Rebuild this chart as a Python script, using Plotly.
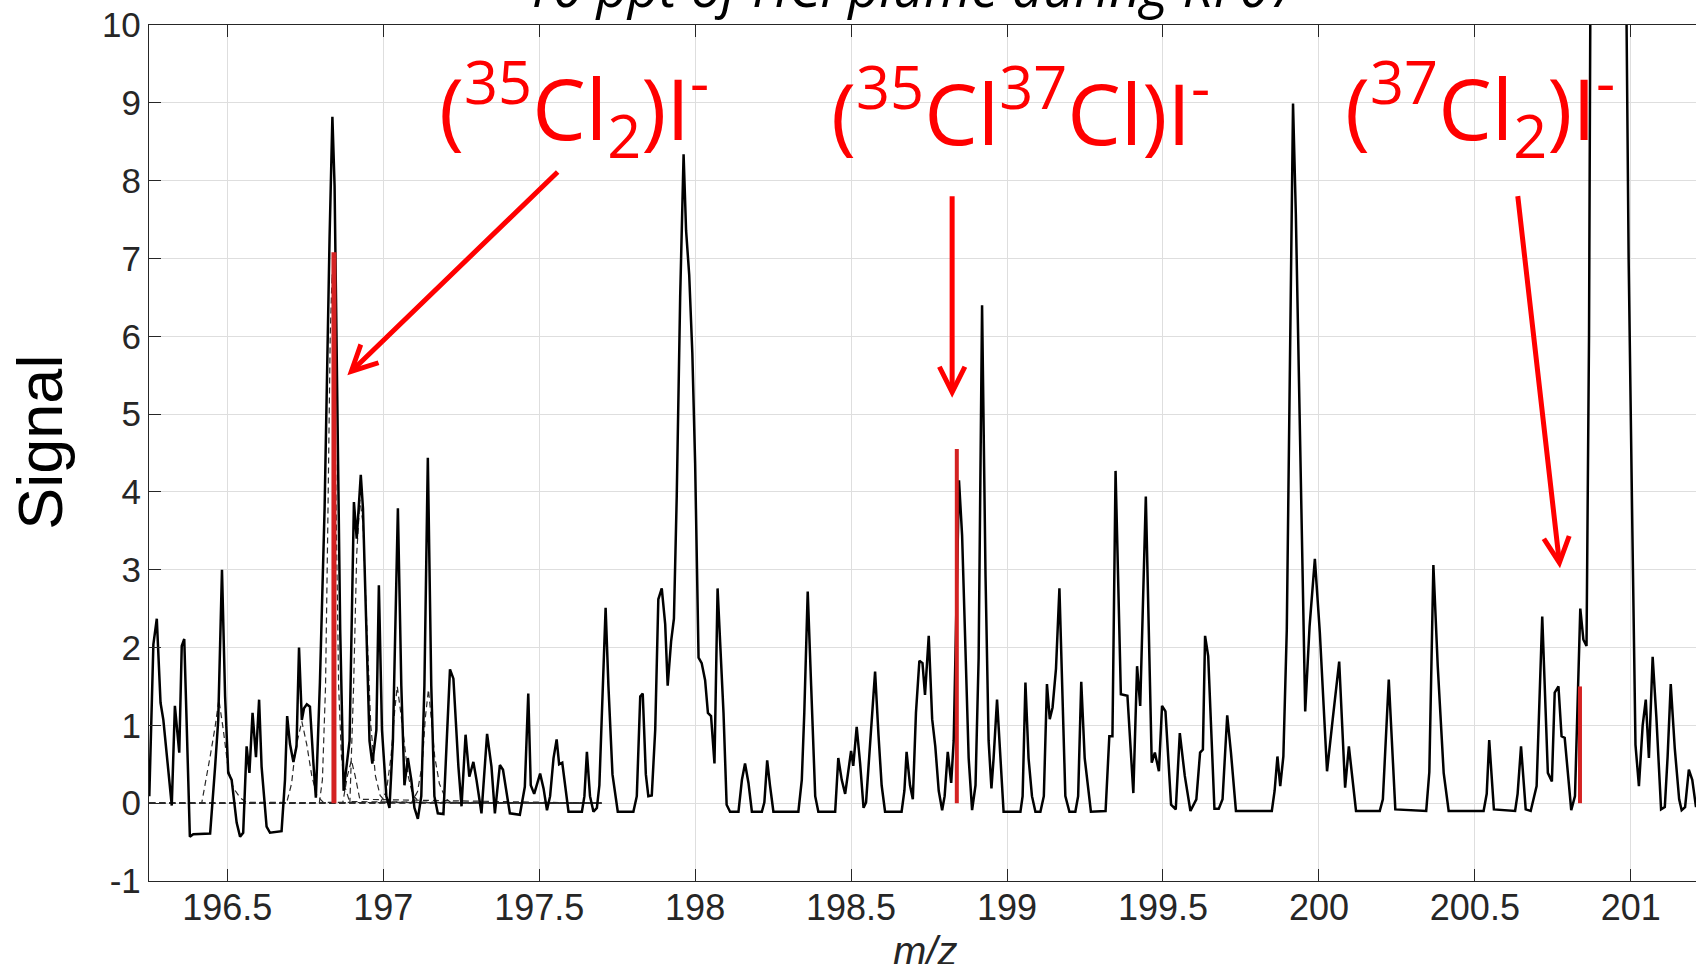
import plotly.graph_objects as go

# ---------------- data ----------------
mz = [
    196.250, 196.263, 196.274, 196.286, 196.295, 196.306, 196.322, 196.332, 196.338, 196.346,
    196.354, 196.362, 196.370, 196.380, 196.391, 196.445, 196.461, 196.471, 196.483, 196.493,
    196.503, 196.514, 196.530, 196.541, 196.551, 196.562, 196.571, 196.581, 196.592, 196.602,
    196.610, 196.626, 196.637, 196.674, 196.685, 196.692, 196.701, 196.712, 196.722, 196.730,
    196.739, 196.746, 196.755, 196.765, 196.776, 196.784, 196.797, 196.812, 196.828, 196.837,
    196.844, 196.853, 196.862, 196.873, 196.877, 196.892, 196.906, 196.915, 196.928, 196.935,
    196.946, 196.956, 196.965, 196.978, 196.986, 196.996, 197.010, 197.020, 197.031, 197.047,
    197.058, 197.068, 197.079, 197.090, 197.100, 197.111, 197.122, 197.132, 197.143, 197.154,
    197.164, 197.175, 197.193, 197.214, 197.225, 197.241, 197.251, 197.264, 197.276, 197.289,
    197.299, 197.315, 197.333, 197.347, 197.358, 197.374, 197.384, 197.406, 197.438, 197.454,
    197.465, 197.473, 197.484,
    197.503, 197.514, 197.525, 197.535, 197.546, 197.556, 197.564, 197.574, 197.583, 197.594,
    197.637, 197.645, 197.653, 197.663, 197.674, 197.685, 197.693, 197.701, 197.713, 197.722,
    197.735, 197.752, 197.802, 197.813, 197.824, 197.832, 197.842, 197.850, 197.861, 197.872,
    197.882, 197.893, 197.904, 197.912, 197.923, 197.932, 197.941, 197.952, 197.963, 197.971,
    197.981, 197.991, 198.000, 198.011, 198.021, 198.032, 198.041, 198.051, 198.062, 198.072,
    198.080, 198.091, 198.101, 198.112, 198.139, 198.150, 198.160, 198.171, 198.182, 198.214,
    198.222, 198.231, 198.240, 198.251, 198.331, 198.342, 198.350, 198.361, 198.372, 198.385,
    198.395, 198.449, 198.459, 198.470, 198.481, 198.491, 198.500, 198.507, 198.518, 198.529,
    198.540, 198.548, 198.556, 198.577, 198.588, 198.598, 198.609, 198.662, 198.671, 198.678,
    198.689, 198.698, 198.708, 198.719, 198.729, 198.737, 198.749,
    198.760, 198.770, 198.781, 198.792, 198.800, 198.810, 198.821, 198.829, 198.846, 198.856,
    198.869, 198.877, 198.888, 198.899, 198.909, 198.920, 198.931, 198.941, 198.950, 198.957,
    198.968, 198.979, 198.989, 199.043, 199.050, 199.059, 199.069, 199.080, 199.091, 199.107,
    199.118, 199.128, 199.137, 199.146, 199.157, 199.168, 199.178, 199.187, 199.200, 199.219,
    199.228, 199.238, 199.249, 199.262, 199.269,
    199.316, 199.328, 199.338, 199.348, 199.365, 199.386, 199.405, 199.417, 199.427, 199.445,
    199.464, 199.474, 199.487, 199.497, 199.508, 199.526, 199.541, 199.554, 199.570, 199.588,
    199.607, 199.619, 199.628, 199.635, 199.645, 199.665, 199.679, 199.691, 199.706, 199.718,
    199.734, 199.849, 199.858, 199.867, 199.876, 199.886, 199.897, 199.905, 199.917, 199.926,
    199.937, 199.946, 199.956, 199.970, 199.987, 200.003, 200.026, 200.044, 200.065, 200.084,
    200.096, 200.119, 200.195, 200.205, 200.224, 200.245, 200.344, 200.354, 200.367, 200.381,
    200.400, 200.416, 200.528, 200.538, 200.546, 200.561, 200.629, 200.637, 200.648, 200.663,
    200.679, 200.698, 200.716, 200.734, 200.747, 200.756, 200.768, 200.778, 200.788, 200.809,
    200.821, 200.838, 200.848, 200.858, 200.866, 200.872, 200.930, 200.982, 200.993, 201.005,
    201.015, 201.026, 201.038, 201.048, 201.058, 201.070, 201.082, 201.097, 201.109, 201.118,
    201.128, 201.141, 201.155, 201.163, 201.174, 201.186, 201.197, 201.209, 201.215,
]
signal = [
    0.09, 2.04, 2.37, 1.29, 1.07, 0.65, -0.03, 1.25, 0.95, 0.65,
    2.02, 2.11, 0.99, -0.43, -0.40, -0.39, 0.47, 1.07, 3.00, 1.37,
    0.39, 0.30, -0.25, -0.43, -0.38, 0.73, 0.39, 1.16, 0.59, 1.33,
    0.47, -0.30, -0.38, -0.36, 0.30, 1.12, 0.76, 0.53, 0.73, 2.00,
    1.07, 1.22, 1.27, 1.24, 0.52, 0.07, 1.55, 3.79, 7.28, 8.82,
    7.93, 5.08, 2.23, 0.16, 0.30, 0.80, 3.87, 3.40, 4.22, 3.79,
    2.23, 0.80, 0.51, 0.94, 2.80, 0.94, 0.09, -0.06, 0.80, 3.79,
    1.51, 0.23, 0.58, 0.30, -0.06, -0.20, 0.09, 1.51, 4.44, 1.51,
    0.09, -0.13, -0.14, 1.72, 1.60, 0.47, -0.04, 0.88, 0.34, 0.53,
    0.30, -0.13, 0.89, 0.47, -0.13, 0.49, 0.43, -0.13, -0.15, 0.21,
    1.41, 0.23, 0.12,
    0.38, 0.19, -0.09, 0.09, 0.58, 0.82, 0.50, 0.52, 0.23, -0.11,
    -0.11, 0.09, 0.66, 0.09, -0.11, -0.06, 0.23, 1.16, 2.51, 1.51,
    0.37, -0.11, -0.11, 0.09, 1.37, 1.41, 0.37, 0.09, 0.10, 0.94,
    2.62, 2.76, 2.30, 1.51, 2.08, 2.37, 3.94, 6.50, 8.34, 7.36,
    6.79, 5.79, 4.37, 1.87, 1.80, 1.58, 1.16, 1.12, 0.51, 2.76,
    2.08, 1.16, -0.02, -0.11, -0.11, 0.30, 0.51, 0.26, -0.11, -0.11,
    0.01, 0.55, 0.23, -0.11, -0.11, 0.30, 1.16, 2.72, 1.51, 0.09,
    -0.11, -0.11, 0.58, 0.30, 0.12, 0.44, 0.67, 0.48, 0.98, 0.51,
    -0.06, 0.01, 0.44, 1.69, 0.87, 0.23, -0.11, -0.11, 0.16, 0.66,
    0.23, 0.05, 1.16, 1.83, 1.80, 1.39, 2.15,
    1.08, 0.73, 0.16, -0.09, 0.09, 0.66, 0.26, 0.80, 4.15, 3.44,
    1.51, 0.58, -0.09, 0.23, 1.87, 6.40, 2.94, 0.80, 0.19, 0.58,
    1.33, 0.58, -0.11, -0.11, 0.09, 1.55, 0.58, 0.09, -0.11, -0.11,
    0.09, 1.53, 1.08, 1.23, 1.73, 2.76, 1.51, 0.09, -0.11, -0.11,
    0.09, 1.56, 0.58, 0.09, -0.11,
    -0.10, 0.86, 0.86, 4.27, 1.40, 1.38, 0.13, 1.76, 1.25, 3.94,
    0.52, 0.65, 0.41, 1.25, 1.18, -0.02, -0.08, 0.90, 0.35, -0.10,
    0.05, 0.65, 0.69, 2.15, 1.89, -0.07, -0.07, 0.05, 1.13, 0.65,
    -0.10, -0.10, 0.16, 0.60, 0.22, 0.60, 2.23, 4.72, 8.99, 7.57,
    5.08, 2.94, 1.18, 2.27, 3.14, 2.19, 0.41, 1.07, 1.82, 0.20,
    0.73, -0.10, -0.10, 0.05, 1.59, -0.08, -0.10, 0.40, 3.06, 1.76,
    0.39, -0.10, -0.10, 0.12, 0.81, -0.08, -0.10, 0.12, 0.73, -0.08,
    -0.10, 0.22, 2.40, 0.39, 0.28, 1.42, 1.50, 0.86, 0.84, -0.09,
    0.09, 2.50, 2.10, 2.02, 6.0, 12.0, 30.0, 12.0, 7.0, 3.5,
    0.75, 0.22, 1.00, 1.33, 0.58, 1.88, 1.10, -0.08, -0.05, 0.60,
    1.53, 0.70, 0.05, -0.09, -0.05, 0.43, 0.30, -0.05, 0.10,
]

# fitted peak components (dashed)
fit_a_x = [196.25, 196.418, 196.445, 196.461, 196.473, 196.487, 196.503, 196.519, 196.541, 196.562, 197.70]
fit_a_y = [0.0, 0.0, 0.60, 0.98, 1.33, 0.95, 0.44, 0.20, 0.07, 0.01, 0.0]
fit_b_x = [196.25, 196.690, 196.706, 196.719, 196.739, 196.755, 196.771, 196.787, 196.808, 197.70]
fit_b_y = [0.0, 0.0, 0.25, 0.70, 1.05, 0.75, 0.35, 0.10, 0.01, 0.0]
fit_c_x = [196.25, 196.795, 196.805, 196.815, 196.822, 196.830, 196.836, 196.842, 196.850, 196.857, 196.866, 196.878, 196.892, 197.70]
fit_c_y = [0.0, 0.0, 0.30, 1.50, 3.50, 6.00, 6.80, 6.00, 3.50, 1.50, 0.60, 0.20, 0.02, 0.0]
fit_d_x = [196.25, 196.870, 196.885, 196.898, 196.910, 196.925, 197.70]
fit_d_y = [0.0, 0.0, 0.35, 0.55, 0.35, 0.05, 0.0]
fit_e_x = [196.25, 196.893, 196.905, 196.915, 196.925, 196.935, 196.948, 196.960, 196.975, 196.990, 197.010, 197.70]
fit_e_y = [0.0, 0.0, 1.50, 3.20, 3.90, 3.60, 2.20, 1.00, 0.35, 0.10, 0.01, 0.0]
fit_f_x = [196.25, 196.990, 197.010, 197.025, 197.037, 197.045, 197.055, 197.066, 197.080, 197.095, 197.120, 197.70]
fit_f_y = [0.0, 0.0, 0.15, 0.60, 1.20, 1.50, 1.20, 0.80, 0.35, 0.10, 0.0, 0.0]
fit_g_x = [196.25, 197.090, 197.110, 197.125, 197.135, 197.145, 197.155, 197.165, 197.180, 197.200, 197.220, 197.70]
fit_g_y = [0.0, 0.0, 0.15, 0.50, 1.10, 1.46, 1.05, 0.60, 0.25, 0.06, 0.0, 0.0]

stick_mz = [196.842, 198.839, 200.837]
stick_height = [7.08, 4.55, 1.50]
stick_width = [5, 4, 4]

labels = ["(<sup>35</sup>Cl<sub>2</sub>)I<sup>-</sup>",
          "(<sup>35</sup>Cl<sup>37</sup>Cl)I<sup>-</sup>",
          "(<sup>37</sup>Cl<sub>2</sub>)I<sup>-</sup>"]
label_x = [197.611, 199.044, 200.518]
label_y = [8.94, 8.94, 8.94]
arrow_tail_x = [197.564, 198.824, 200.637]
arrow_tail_y = [8.13, 7.82, 7.82]
arrow_tip_x = [196.885, 198.824, 200.773]
arrow_tip_y = [5.50, 5.21, 3.02]

xtick_vals = [196.5, 197, 197.5, 198, 198.5, 199, 199.5, 200, 200.5, 201]
xtick_text = ["196.5", "197", "197.5", "198", "198.5", "199", "199.5", "200", "200.5", "201"]
ytick_vals = list(range(-1, 11))
ytick_text = [str(v) for v in ytick_vals]

title_text = "10 ppt of HCl plume during RF07"

# ---------------- figure ----------------
fig = go.Figure()

for fx, fy in [(fit_a_x, fit_a_y), (fit_b_x, fit_b_y), (fit_c_x, fit_c_y), (fit_d_x, fit_d_y),
               (fit_e_x, fit_e_y), (fit_f_x, fit_f_y), (fit_g_x, fit_g_y)]:
    fig.add_trace(go.Scatter(x=fx, y=fy, mode="lines", showlegend=False, hoverinfo="skip",
                             line=dict(color="#2a2a2a", width=1.2, dash="6px,4px")))

fig.add_trace(go.Scatter(x=mz, y=signal, mode="lines", showlegend=False,
                         line=dict(color="#000000", width=2.5)))

for sx, sh, sw in zip(stick_mz, stick_height, stick_width):
    fig.add_trace(go.Scatter(x=[sx, sx], y=[0, sh], mode="lines", showlegend=False,
                             line=dict(color="#d42222", width=sw)))

annotations = []
for t, lx, ly in zip(labels, label_x, label_y):
    annotations.append(dict(x=lx, y=ly, xref="x", yref="y", text=t, showarrow=False,
                            xanchor="center", yanchor="middle",
                            font=dict(family="Open Sans", size=85, color="#ff0000")))
for tx, ty, hx, hy in zip(arrow_tail_x, arrow_tail_y, arrow_tip_x, arrow_tip_y):
    annotations.append(dict(x=hx, y=hy, xref="x", yref="y", ax=tx, ay=ty, axref="x", ayref="y",
                            text="", showarrow=True, arrowhead=5, arrowsize=1, arrowwidth=5,
                            arrowcolor="#ff0000", standoff=0))

annotations.append(dict(x=0.4926, y=1.0, xref="paper", yref="paper", yshift=39,
                        text=title_text, showarrow=False, xanchor="center", yanchor="middle",
                        font=dict(family="Open Sans", size=54, color="#000000", style="italic")))
annotations.append(dict(x=0.5016, y=0, xref="paper", yref="paper", yshift=-46,
                        text="m/z", showarrow=False, xanchor="center", yanchor="top",
                        font=dict(family="Liberation Sans", size=40, color="#262626", style="italic")))
annotations.append(dict(x=0, y=0.512, xref="paper", yref="paper", xshift=-109,
                        text="Signal", showarrow=False, textangle=-90, xanchor="center", yanchor="middle",
                        font=dict(family="Liberation Sans", size=63, color="#000000")))

fig.update_layout(
    width=1696, height=964,
    margin=dict(l=149, r=0, t=25, b=83),
    paper_bgcolor="white", plot_bgcolor="white",
    annotations=annotations,
    font=dict(family="Liberation Sans", size=35, color="#262626"),
)
fig.update_xaxes(range=[196.249, 201.209], tickvals=xtick_vals, ticktext=xtick_text,
                 showgrid=True, gridcolor="#dedede", gridwidth=1,
                 ticks="inside", ticklen=12, tickwidth=1, tickcolor="#262626",
                 showline=True, linecolor="#262626", linewidth=1.3, mirror="ticks",
                 zeroline=False, ticklabelstandoff=-5, tickfont=dict(size=36, color="#262626"))
fig.update_yaxes(range=[-1, 10], tickvals=ytick_vals, ticktext=ytick_text,
                 showgrid=True, gridcolor="#dedede", gridwidth=1,
                 ticks="inside", ticklen=12, tickwidth=1, tickcolor="#262626",
                 showline=True, linecolor="#262626", linewidth=1.3,
                 zeroline=False, tickfont=dict(size=35, color="#262626"))

fig.write_html("out.html")
